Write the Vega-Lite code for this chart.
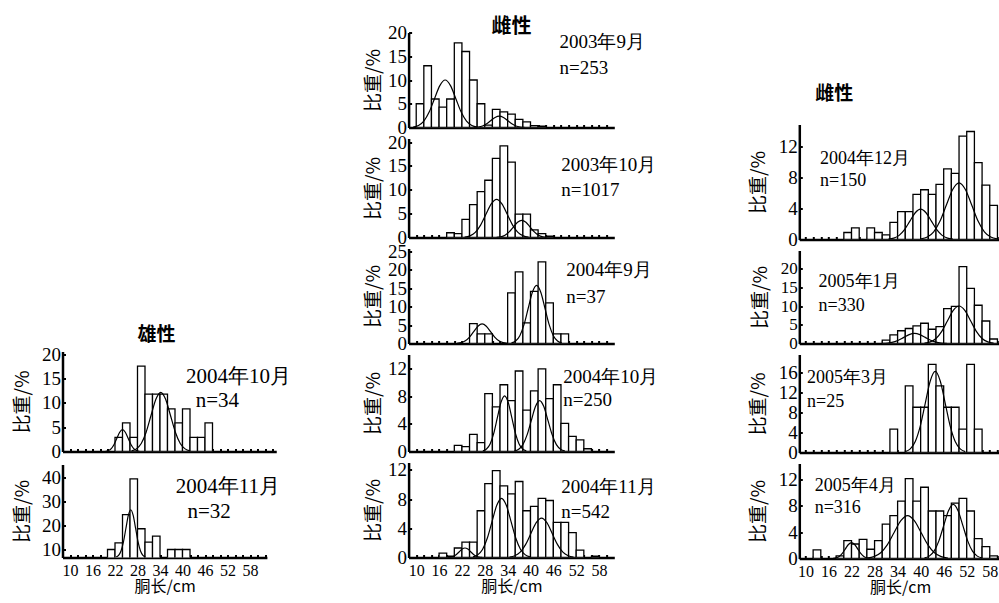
{
  "$schema": "https://vega.github.io/schema/vega-lite/v6.json",
  "padding": {"left": 12.5, "top": 16.5, "right": 0, "bottom": 0},
  "config": {
    "view": {"stroke": null},
    "font": "Liberation Serif",
    "axis": {
      "domainColor": "black", "domainWidth": 2.5, "tickColor": "black", "tickWidth": 2, "tickSize": -3,
      "grid": false, "labelColor": "black", "titleColor": "black",
      "labelFont": "Liberation Serif", "titleFont": "Noto Sans CJK SC", "titleFontWeight": "normal",
      "labelOverlap": false, "labelFlush": false
    },
    "axisY": {"labelFontSize": 19, "titleFontSize": 19, "labelPadding": 5},
    "axisX": {"labelFontSize": 16, "titleFontSize": 16, "labelPadding": 8, "titlePadding": 0},
    "title": {"font": "Noto Sans CJK SC", "fontSize": 19, "fontWeight": "bold", "color": "black", "anchor": "start", "frame": "group", "baseline": "bottom"}
  },
  "datasets": {
    "bars": [
      {"p":"L1","cm":22,"cm2":24,"pct":2.9},{"p":"L1","cm":24,"cm2":26,"pct":5.9},{"p":"L1","cm":26,"cm2":28,"pct":2.9},{"p":"L1","cm":28,"cm2":30,"pct":17.6},{"p":"L1","cm":30,"cm2":32,"pct":11.8},{"p":"L1","cm":32,"cm2":34,"pct":11.8},{"p":"L1","cm":34,"cm2":36,"pct":11.8},{"p":"L1","cm":36,"cm2":38,"pct":8.8},{"p":"L1","cm":38,"cm2":40,"pct":5.9},{"p":"L1","cm":40,"cm2":42,"pct":8.8},{"p":"L1","cm":42,"cm2":44,"pct":2.9},{"p":"L1","cm":44,"cm2":46,"pct":2.9},{"p":"L1","cm":46,"cm2":48,"pct":5.9},
      {"p":"L2","cm":20,"cm2":22,"pct":10},{"p":"L2","cm":22,"cm2":24,"pct":12.8},{"p":"L2","cm":24,"cm2":26,"pct":24.6},{"p":"L2","cm":26,"cm2":28,"pct":39.6},{"p":"L2","cm":28,"cm2":30,"pct":18.7},{"p":"L2","cm":30,"cm2":32,"pct":13.1},{"p":"L2","cm":32,"cm2":34,"pct":15.6},{"p":"L2","cm":36,"cm2":38,"pct":10},{"p":"L2","cm":38,"cm2":40,"pct":10},{"p":"L2","cm":40,"cm2":42,"pct":10},
      {"p":"M1","cm":10,"cm2":12,"pct":5},{"p":"M1","cm":12,"cm2":14,"pct":13},{"p":"M1","cm":14,"cm2":16,"pct":6},{"p":"M1","cm":16,"cm2":18,"pct":4.3},{"p":"M1","cm":18,"cm2":20,"pct":6},{"p":"M1","cm":20,"cm2":22,"pct":17.8},{"p":"M1","cm":22,"cm2":24,"pct":16},{"p":"M1","cm":24,"cm2":26,"pct":10},{"p":"M1","cm":26,"cm2":28,"pct":5},{"p":"M1","cm":28,"cm2":30,"pct":0.5},{"p":"M1","cm":30,"cm2":32,"pct":3.8},{"p":"M1","cm":32,"cm2":34,"pct":3.3},{"p":"M1","cm":34,"cm2":36,"pct":2.8},{"p":"M1","cm":36,"cm2":38,"pct":1.7},{"p":"M1","cm":38,"cm2":40,"pct":1.2},{"p":"M1","cm":40,"cm2":42,"pct":0.4},{"p":"M1","cm":42,"cm2":44,"pct":0.3},
      {"p":"M2","cm":18,"cm2":20,"pct":1},{"p":"M2","cm":20,"cm2":22,"pct":0.8},{"p":"M2","cm":22,"cm2":24,"pct":3.8},{"p":"M2","cm":24,"cm2":26,"pct":6.9},{"p":"M2","cm":26,"cm2":28,"pct":9.6},{"p":"M2","cm":28,"cm2":30,"pct":12},{"p":"M2","cm":30,"cm2":32,"pct":16.6},{"p":"M2","cm":32,"cm2":34,"pct":19.2},{"p":"M2","cm":34,"cm2":36,"pct":15.8},{"p":"M2","cm":36,"cm2":38,"pct":4.9},{"p":"M2","cm":38,"cm2":40,"pct":4.9},{"p":"M2","cm":40,"cm2":42,"pct":1.6},{"p":"M2","cm":42,"cm2":44,"pct":0.8},{"p":"M2","cm":44,"cm2":46,"pct":0.3},
      {"p":"M3","cm":24,"cm2":26,"pct":5.4},{"p":"M3","cm":26,"cm2":28,"pct":2.6},{"p":"M3","cm":28,"cm2":30,"pct":2.6},{"p":"M3","cm":34,"cm2":36,"pct":13.7},{"p":"M3","cm":36,"cm2":38,"pct":19.4},{"p":"M3","cm":38,"cm2":40,"pct":5.6},{"p":"M3","cm":40,"cm2":42,"pct":14.1},{"p":"M3","cm":42,"cm2":44,"pct":22.1},{"p":"M3","cm":44,"cm2":46,"pct":11},{"p":"M3","cm":46,"cm2":48,"pct":2.6},{"p":"M3","cm":48,"cm2":50,"pct":2.6},
      {"p":"M4","cm":20,"cm2":22,"pct":0.9},{"p":"M4","cm":22,"cm2":24,"pct":0.7},{"p":"M4","cm":24,"cm2":26,"pct":2.5},{"p":"M4","cm":26,"cm2":28,"pct":1.3},{"p":"M4","cm":28,"cm2":30,"pct":8.4},{"p":"M4","cm":30,"cm2":32,"pct":6.5},{"p":"M4","cm":32,"cm2":34,"pct":9.7},{"p":"M4","cm":34,"cm2":36,"pct":7.4},{"p":"M4","cm":36,"cm2":38,"pct":11.7},{"p":"M4","cm":38,"cm2":40,"pct":6},{"p":"M4","cm":40,"cm2":42,"pct":8.8},{"p":"M4","cm":42,"cm2":44,"pct":12},{"p":"M4","cm":44,"cm2":46,"pct":7.7},{"p":"M4","cm":46,"cm2":48,"pct":9.7},{"p":"M4","cm":48,"cm2":50,"pct":4.1},{"p":"M4","cm":50,"cm2":52,"pct":2.2},{"p":"M4","cm":52,"cm2":54,"pct":1.7},{"p":"M4","cm":54,"cm2":56,"pct":0.4},
      {"p":"M5","cm":16,"cm2":18,"pct":0.6},{"p":"M5","cm":18,"cm2":20,"pct":0.2},{"p":"M5","cm":20,"cm2":22,"pct":1.3},{"p":"M5","cm":22,"cm2":24,"pct":2.1},{"p":"M5","cm":24,"cm2":26,"pct":2.1},{"p":"M5","cm":26,"cm2":28,"pct":6.4},{"p":"M5","cm":28,"cm2":30,"pct":10.1},{"p":"M5","cm":30,"cm2":32,"pct":11.9},{"p":"M5","cm":32,"cm2":34,"pct":9.8},{"p":"M5","cm":34,"cm2":36,"pct":8.7},{"p":"M5","cm":36,"cm2":38,"pct":10.4},{"p":"M5","cm":38,"cm2":40,"pct":6.4},{"p":"M5","cm":40,"cm2":42,"pct":7},{"p":"M5","cm":42,"cm2":44,"pct":8.1},{"p":"M5","cm":44,"cm2":46,"pct":7.8},{"p":"M5","cm":46,"cm2":48,"pct":4.8},{"p":"M5","cm":48,"cm2":50,"pct":4.8},{"p":"M5","cm":50,"cm2":52,"pct":3.4},{"p":"M5","cm":52,"cm2":54,"pct":1},{"p":"M5","cm":56,"cm2":58,"pct":0.2},
      {"p":"R1","cm":20,"cm2":22,"pct":0.9},{"p":"R1","cm":22,"cm2":24,"pct":1.5},{"p":"R1","cm":26,"cm2":28,"pct":1.5},{"p":"R1","cm":28,"cm2":30,"pct":0.9},{"p":"R1","cm":30,"cm2":32,"pct":0.6},{"p":"R1","cm":32,"cm2":34,"pct":2.2},{"p":"R1","cm":34,"cm2":36,"pct":3.6},{"p":"R1","cm":36,"cm2":38,"pct":3.6},{"p":"R1","cm":38,"cm2":40,"pct":5.8},{"p":"R1","cm":40,"cm2":42,"pct":6.4},{"p":"R1","cm":42,"cm2":44,"pct":5.8},{"p":"R1","cm":44,"cm2":46,"pct":7.1},{"p":"R1","cm":46,"cm2":48,"pct":9.1},{"p":"R1","cm":48,"cm2":50,"pct":8.5},{"p":"R1","cm":50,"cm2":52,"pct":13.3},{"p":"R1","cm":52,"cm2":54,"pct":13.9},{"p":"R1","cm":54,"cm2":56,"pct":9.9},{"p":"R1","cm":56,"cm2":58,"pct":7},{"p":"R1","cm":58,"cm2":60,"pct":4.4},
      {"p":"R2","cm":30,"cm2":32,"pct":0.9},{"p":"R2","cm":32,"cm2":34,"pct":2.3},{"p":"R2","cm":34,"cm2":36,"pct":3.4},{"p":"R2","cm":36,"cm2":38,"pct":4},{"p":"R2","cm":38,"cm2":40,"pct":4.7},{"p":"R2","cm":40,"cm2":42,"pct":5.4},{"p":"R2","cm":42,"cm2":44,"pct":3.8},{"p":"R2","cm":44,"cm2":46,"pct":4.5},{"p":"R2","cm":46,"cm2":48,"pct":9.3},{"p":"R2","cm":48,"cm2":50,"pct":9.9},{"p":"R2","cm":50,"cm2":52,"pct":20.5},{"p":"R2","cm":52,"cm2":54,"pct":14.7},{"p":"R2","cm":54,"cm2":56,"pct":10.2},{"p":"R2","cm":56,"cm2":58,"pct":6},{"p":"R2","cm":58,"cm2":60,"pct":1.2},
      {"p":"R3","cm":32,"cm2":34,"pct":4.7},{"p":"R3","cm":36,"cm2":38,"pct":13.4},{"p":"R3","cm":38,"cm2":40,"pct":9.1},{"p":"R3","cm":40,"cm2":42,"pct":9.1},{"p":"R3","cm":42,"cm2":44,"pct":17.7},{"p":"R3","cm":44,"cm2":46,"pct":13.4},{"p":"R3","cm":46,"cm2":48,"pct":9.1},{"p":"R3","cm":48,"cm2":50,"pct":9.1},{"p":"R3","cm":50,"cm2":52,"pct":4.7},{"p":"R3","cm":52,"cm2":54,"pct":17.7},{"p":"R3","cm":54,"cm2":56,"pct":4.7},
      {"p":"R4","cm":12,"cm2":14,"pct":1.3},{"p":"R4","cm":18,"cm2":20,"pct":0.4},{"p":"R4","cm":20,"cm2":22,"pct":2.7},{"p":"R4","cm":22,"cm2":24,"pct":2.2},{"p":"R4","cm":24,"cm2":26,"pct":2.9},{"p":"R4","cm":26,"cm2":28,"pct":1.4},{"p":"R4","cm":28,"cm2":30,"pct":2.7},{"p":"R4","cm":30,"cm2":32,"pct":5.2},{"p":"R4","cm":32,"cm2":34,"pct":6.5},{"p":"R4","cm":34,"cm2":36,"pct":8.7},{"p":"R4","cm":36,"cm2":38,"pct":12.1},{"p":"R4","cm":38,"cm2":40,"pct":8.7},{"p":"R4","cm":40,"cm2":42,"pct":10.8},{"p":"R4","cm":42,"cm2":44,"pct":7.2},{"p":"R4","cm":44,"cm2":46,"pct":7.2},{"p":"R4","cm":46,"cm2":48,"pct":6.5},{"p":"R4","cm":48,"cm2":50,"pct":8.4},{"p":"R4","cm":50,"cm2":52,"pct":9.1},{"p":"R4","cm":52,"cm2":54,"pct":7.2},{"p":"R4","cm":54,"cm2":56,"pct":3},{"p":"R4","cm":56,"cm2":58,"pct":1.8},{"p":"R4","cm":58,"cm2":60,"pct":0.4}
    ],
    "curves": [
      {"p":"L1","c":1,"cm":19.5,"pct":0.05},{"p":"L1","c":1,"cm":20.25,"pct":0.2},{"p":"L1","c":1,"cm":21,"pct":0.61},{"p":"L1","c":1,"cm":21.75,"pct":1.46},{"p":"L1","c":1,"cm":22.5,"pct":2.73},{"p":"L1","c":1,"cm":23.25,"pct":3.97},{"p":"L1","c":1,"cm":24,"pct":4.5},{"p":"L1","c":1,"cm":24.75,"pct":3.97},{"p":"L1","c":1,"cm":25.5,"pct":2.73},{"p":"L1","c":1,"cm":26.25,"pct":1.46},{"p":"L1","c":1,"cm":27,"pct":0.61},{"p":"L1","c":1,"cm":27.75,"pct":0.2},{"p":"L1","c":1,"cm":28.5,"pct":0.05},
      {"p":"L1","c":2,"cm":26.4,"pct":0.13},{"p":"L1","c":2,"cm":27.7,"pct":0.54},{"p":"L1","c":2,"cm":29,"pct":1.65},{"p":"L1","c":2,"cm":30.3,"pct":3.97},{"p":"L1","c":2,"cm":31.6,"pct":7.41},{"p":"L1","c":2,"cm":32.9,"pct":10.76},{"p":"L1","c":2,"cm":34.2,"pct":12.2},{"p":"L1","c":2,"cm":35.5,"pct":10.76},{"p":"L1","c":2,"cm":36.8,"pct":7.41},{"p":"L1","c":2,"cm":38.1,"pct":3.97},{"p":"L1","c":2,"cm":39.4,"pct":1.65},{"p":"L1","c":2,"cm":40.7,"pct":0.54},{"p":"L1","c":2,"cm":42,"pct":0.13},
      {"p":"L2","c":1,"cm":22.3,"pct":6.87},{"p":"L2","c":1,"cm":22.95,"pct":7.53},{"p":"L2","c":1,"cm":23.6,"pct":9.35},{"p":"L2","c":1,"cm":24.25,"pct":13.15},{"p":"L2","c":1,"cm":24.9,"pct":18.79},{"p":"L2","c":1,"cm":25.55,"pct":24.29},{"p":"L2","c":1,"cm":26.2,"pct":26.65},{"p":"L2","c":1,"cm":26.85,"pct":24.29},{"p":"L2","c":1,"cm":27.5,"pct":18.79},{"p":"L2","c":1,"cm":28.15,"pct":13.15},{"p":"L2","c":1,"cm":28.8,"pct":9.35},{"p":"L2","c":1,"cm":29.45,"pct":7.53},{"p":"L2","c":1,"cm":30.1,"pct":6.87},
      {"p":"M1","c":1,"cm":9.2,"pct":0.11},{"p":"M1","c":1,"cm":10.6,"pct":0.44},{"p":"M1","c":1,"cm":12,"pct":1.35},{"p":"M1","c":1,"cm":13.4,"pct":3.25},{"p":"M1","c":1,"cm":14.8,"pct":6.07},{"p":"M1","c":1,"cm":16.2,"pct":8.82},{"p":"M1","c":1,"cm":17.6,"pct":10},{"p":"M1","c":1,"cm":19,"pct":8.82},{"p":"M1","c":1,"cm":20.4,"pct":6.07},{"p":"M1","c":1,"cm":21.8,"pct":3.25},{"p":"M1","c":1,"cm":23.2,"pct":1.35},{"p":"M1","c":1,"cm":24.6,"pct":0.44},{"p":"M1","c":1,"cm":26,"pct":0.11},
      {"p":"M1","c":2,"cm":25.2,"pct":0.03},{"p":"M1","c":2,"cm":26.3,"pct":0.11},{"p":"M1","c":2,"cm":27.4,"pct":0.32},{"p":"M1","c":2,"cm":28.5,"pct":0.78},{"p":"M1","c":2,"cm":29.6,"pct":1.46},{"p":"M1","c":2,"cm":30.7,"pct":2.12},{"p":"M1","c":2,"cm":31.8,"pct":2.4},{"p":"M1","c":2,"cm":32.9,"pct":2.12},{"p":"M1","c":2,"cm":34,"pct":1.46},{"p":"M1","c":2,"cm":35.1,"pct":0.78},{"p":"M1","c":2,"cm":36.2,"pct":0.32},{"p":"M1","c":2,"cm":37.3,"pct":0.11},{"p":"M1","c":2,"cm":38.4,"pct":0.03},
      {"p":"M2","c":1,"cm":22.7,"pct":0.09},{"p":"M2","c":1,"cm":24.1,"pct":0.35},{"p":"M2","c":1,"cm":25.5,"pct":1.08},{"p":"M2","c":1,"cm":26.9,"pct":2.6},{"p":"M2","c":1,"cm":28.3,"pct":4.86},{"p":"M2","c":1,"cm":29.7,"pct":7.06},{"p":"M2","c":1,"cm":31.1,"pct":8},{"p":"M2","c":1,"cm":32.5,"pct":7.06},{"p":"M2","c":1,"cm":33.9,"pct":4.86},{"p":"M2","c":1,"cm":35.3,"pct":2.6},{"p":"M2","c":1,"cm":36.7,"pct":1.08},{"p":"M2","c":1,"cm":38.1,"pct":0.35},{"p":"M2","c":1,"cm":39.5,"pct":0.09},
      {"p":"M2","c":2,"cm":31.1,"pct":0.04},{"p":"M2","c":2,"cm":32.2,"pct":0.16},{"p":"M2","c":2,"cm":33.3,"pct":0.49},{"p":"M2","c":2,"cm":34.4,"pct":1.17},{"p":"M2","c":2,"cm":35.5,"pct":2.19},{"p":"M2","c":2,"cm":36.6,"pct":3.18},{"p":"M2","c":2,"cm":37.7,"pct":3.6},{"p":"M2","c":2,"cm":38.8,"pct":3.18},{"p":"M2","c":2,"cm":39.9,"pct":2.19},{"p":"M2","c":2,"cm":41,"pct":1.17},{"p":"M2","c":2,"cm":42.1,"pct":0.49},{"p":"M2","c":2,"cm":43.2,"pct":0.16},{"p":"M2","c":2,"cm":44.3,"pct":0.04},
      {"p":"M3","c":1,"cm":20.7,"pct":0.06},{"p":"M3","c":1,"cm":21.8,"pct":0.23},{"p":"M3","c":1,"cm":22.9,"pct":0.72},{"p":"M3","c":1,"cm":24,"pct":1.72},{"p":"M3","c":1,"cm":25.1,"pct":3.22},{"p":"M3","c":1,"cm":26.2,"pct":4.67},{"p":"M3","c":1,"cm":27.3,"pct":5.3},{"p":"M3","c":1,"cm":28.4,"pct":4.67},{"p":"M3","c":1,"cm":29.5,"pct":3.22},{"p":"M3","c":1,"cm":30.6,"pct":1.72},{"p":"M3","c":1,"cm":31.7,"pct":0.72},{"p":"M3","c":1,"cm":32.8,"pct":0.23},{"p":"M3","c":1,"cm":33.9,"pct":0.06},
      {"p":"M3","c":2,"cm":35,"pct":0.17},{"p":"M3","c":2,"cm":36.1,"pct":0.69},{"p":"M3","c":2,"cm":37.2,"pct":2.12},{"p":"M3","c":2,"cm":38.3,"pct":5.1},{"p":"M3","c":2,"cm":39.4,"pct":9.53},{"p":"M3","c":2,"cm":40.5,"pct":13.85},{"p":"M3","c":2,"cm":41.6,"pct":15.7},{"p":"M3","c":2,"cm":42.7,"pct":13.85},{"p":"M3","c":2,"cm":43.8,"pct":9.53},{"p":"M3","c":2,"cm":44.9,"pct":5.1},{"p":"M3","c":2,"cm":46,"pct":2.12},{"p":"M3","c":2,"cm":47.1,"pct":0.69},{"p":"M3","c":2,"cm":48.2,"pct":0.17},
      {"p":"M4","c":1,"cm":27.5,"pct":0.09},{"p":"M4","c":1,"cm":28.45,"pct":0.36},{"p":"M4","c":1,"cm":29.4,"pct":1.09},{"p":"M4","c":1,"cm":30.35,"pct":2.63},{"p":"M4","c":1,"cm":31.3,"pct":4.92},{"p":"M4","c":1,"cm":32.25,"pct":7.14},{"p":"M4","c":1,"cm":33.2,"pct":8.1},{"p":"M4","c":1,"cm":34.15,"pct":7.14},{"p":"M4","c":1,"cm":35.1,"pct":4.92},{"p":"M4","c":1,"cm":36.05,"pct":2.63},{"p":"M4","c":1,"cm":37,"pct":1.09},{"p":"M4","c":1,"cm":37.95,"pct":0.36},{"p":"M4","c":1,"cm":38.9,"pct":0.09},
      {"p":"M4","c":2,"cm":35.8,"pct":0.08},{"p":"M4","c":2,"cm":36.9,"pct":0.33},{"p":"M4","c":2,"cm":38,"pct":1},{"p":"M4","c":2,"cm":39.1,"pct":2.41},{"p":"M4","c":2,"cm":40.2,"pct":4.49},{"p":"M4","c":2,"cm":41.3,"pct":6.53},{"p":"M4","c":2,"cm":42.4,"pct":7.4},{"p":"M4","c":2,"cm":43.5,"pct":6.53},{"p":"M4","c":2,"cm":44.6,"pct":4.49},{"p":"M4","c":2,"cm":45.7,"pct":2.41},{"p":"M4","c":2,"cm":46.8,"pct":1},{"p":"M4","c":2,"cm":47.9,"pct":0.33},{"p":"M4","c":2,"cm":49,"pct":0.08},
      {"p":"M5","c":1,"cm":24.9,"pct":0.09},{"p":"M5","c":1,"cm":26.15,"pct":0.36},{"p":"M5","c":1,"cm":27.4,"pct":1.09},{"p":"M5","c":1,"cm":28.65,"pct":2.63},{"p":"M5","c":1,"cm":29.9,"pct":4.92},{"p":"M5","c":1,"cm":31.15,"pct":7.14},{"p":"M5","c":1,"cm":32.4,"pct":8.1},{"p":"M5","c":1,"cm":33.65,"pct":7.14},{"p":"M5","c":1,"cm":34.9,"pct":4.92},{"p":"M5","c":1,"cm":36.15,"pct":2.63},{"p":"M5","c":1,"cm":37.4,"pct":1.09},{"p":"M5","c":1,"cm":38.65,"pct":0.36},{"p":"M5","c":1,"cm":39.9,"pct":0.09},
      {"p":"M5","c":2,"cm":34.5,"pct":0.06},{"p":"M5","c":2,"cm":35.9,"pct":0.24},{"p":"M5","c":2,"cm":37.3,"pct":0.73},{"p":"M5","c":2,"cm":38.7,"pct":1.76},{"p":"M5","c":2,"cm":40.1,"pct":3.28},{"p":"M5","c":2,"cm":41.5,"pct":4.76},{"p":"M5","c":2,"cm":42.9,"pct":5.4},{"p":"M5","c":2,"cm":44.3,"pct":4.76},{"p":"M5","c":2,"cm":45.7,"pct":3.28},{"p":"M5","c":2,"cm":47.1,"pct":1.76},{"p":"M5","c":2,"cm":48.5,"pct":0.73},{"p":"M5","c":2,"cm":49.9,"pct":0.24},{"p":"M5","c":2,"cm":51.3,"pct":0.06},
      {"p":"M5","c":3,"cm":18.3,"pct":0.01},{"p":"M5","c":3,"cm":19.05,"pct":0.06},{"p":"M5","c":3,"cm":19.8,"pct":0.18},{"p":"M5","c":3,"cm":20.55,"pct":0.42},{"p":"M5","c":3,"cm":21.3,"pct":0.79},{"p":"M5","c":3,"cm":22.05,"pct":1.15},{"p":"M5","c":3,"cm":22.8,"pct":1.3},{"p":"M5","c":3,"cm":23.55,"pct":1.15},{"p":"M5","c":3,"cm":24.3,"pct":0.79},{"p":"M5","c":3,"cm":25.05,"pct":0.42},{"p":"M5","c":3,"cm":25.8,"pct":0.18},{"p":"M5","c":3,"cm":26.55,"pct":0.06},{"p":"M5","c":3,"cm":27.3,"pct":0.01},
      {"p":"R1","c":1,"cm":31.6,"pct":0.04},{"p":"R1","c":1,"cm":33,"pct":0.17},{"p":"R1","c":1,"cm":34.4,"pct":0.53},{"p":"R1","c":1,"cm":35.8,"pct":1.27},{"p":"R1","c":1,"cm":37.2,"pct":2.37},{"p":"R1","c":1,"cm":38.6,"pct":3.44},{"p":"R1","c":1,"cm":40,"pct":3.9},{"p":"R1","c":1,"cm":41.4,"pct":3.44},{"p":"R1","c":1,"cm":42.8,"pct":2.37},{"p":"R1","c":1,"cm":44.2,"pct":1.27},{"p":"R1","c":1,"cm":45.6,"pct":0.53},{"p":"R1","c":1,"cm":47,"pct":0.17},{"p":"R1","c":1,"cm":48.4,"pct":0.04},
      {"p":"R1","c":2,"cm":40.1,"pct":0.08},{"p":"R1","c":2,"cm":41.75,"pct":0.32},{"p":"R1","c":2,"cm":43.4,"pct":0.99},{"p":"R1","c":2,"cm":45.05,"pct":2.37},{"p":"R1","c":2,"cm":46.7,"pct":4.43},{"p":"R1","c":2,"cm":48.35,"pct":6.44},{"p":"R1","c":2,"cm":50,"pct":7.3},{"p":"R1","c":2,"cm":51.65,"pct":6.44},{"p":"R1","c":2,"cm":53.3,"pct":4.43},{"p":"R1","c":2,"cm":54.95,"pct":2.37},{"p":"R1","c":2,"cm":56.6,"pct":0.99},{"p":"R1","c":2,"cm":58.25,"pct":0.32},{"p":"R1","c":2,"cm":59.9,"pct":0.08},
      {"p":"R2","c":1,"cm":30,"pct":0.03},{"p":"R2","c":1,"cm":31.4,"pct":0.12},{"p":"R2","c":1,"cm":32.8,"pct":0.36},{"p":"R2","c":1,"cm":34.2,"pct":0.88},{"p":"R2","c":1,"cm":35.6,"pct":1.64},{"p":"R2","c":1,"cm":37,"pct":2.38},{"p":"R2","c":1,"cm":38.4,"pct":2.7},{"p":"R2","c":1,"cm":39.8,"pct":2.38},{"p":"R2","c":1,"cm":41.2,"pct":1.64},{"p":"R2","c":1,"cm":42.6,"pct":0.88},{"p":"R2","c":1,"cm":44,"pct":0.36},{"p":"R2","c":1,"cm":45.4,"pct":0.12},{"p":"R2","c":1,"cm":46.8,"pct":0.03},
      {"p":"R2","c":2,"cm":41,"pct":0.11},{"p":"R2","c":2,"cm":42.5,"pct":0.44},{"p":"R2","c":2,"cm":44,"pct":1.35},{"p":"R2","c":2,"cm":45.5,"pct":3.25},{"p":"R2","c":2,"cm":47,"pct":6.07},{"p":"R2","c":2,"cm":48.5,"pct":8.82},{"p":"R2","c":2,"cm":50,"pct":10},{"p":"R2","c":2,"cm":51.5,"pct":8.82},{"p":"R2","c":2,"cm":53,"pct":6.07},{"p":"R2","c":2,"cm":54.5,"pct":3.25},{"p":"R2","c":2,"cm":56,"pct":1.35},{"p":"R2","c":2,"cm":57.5,"pct":0.44},{"p":"R2","c":2,"cm":59,"pct":0.11},
      {"p":"R3","c":1,"cm":36,"pct":0.18},{"p":"R3","c":1,"cm":37.3,"pct":0.72},{"p":"R3","c":1,"cm":38.6,"pct":2.2},{"p":"R3","c":1,"cm":39.9,"pct":5.3},{"p":"R3","c":1,"cm":41.2,"pct":9.89},{"p":"R3","c":1,"cm":42.5,"pct":14.38},{"p":"R3","c":1,"cm":43.8,"pct":16.3},{"p":"R3","c":1,"cm":45.1,"pct":14.38},{"p":"R3","c":1,"cm":46.4,"pct":9.89},{"p":"R3","c":1,"cm":47.7,"pct":5.3},{"p":"R3","c":1,"cm":49,"pct":2.2},{"p":"R3","c":1,"cm":50.3,"pct":0.72},{"p":"R3","c":1,"cm":51.6,"pct":0.18},
      {"p":"R4","c":1,"cm":17.2,"pct":0.03},{"p":"R4","c":1,"cm":18,"pct":0.11},{"p":"R4","c":1,"cm":18.8,"pct":0.32},{"p":"R4","c":1,"cm":19.6,"pct":0.78},{"p":"R4","c":1,"cm":20.4,"pct":1.46},{"p":"R4","c":1,"cm":21.2,"pct":2.12},{"p":"R4","c":1,"cm":22,"pct":2.4},{"p":"R4","c":1,"cm":22.8,"pct":2.12},{"p":"R4","c":1,"cm":23.6,"pct":1.46},{"p":"R4","c":1,"cm":24.4,"pct":0.78},{"p":"R4","c":1,"cm":25.2,"pct":0.32},{"p":"R4","c":1,"cm":26,"pct":0.11},{"p":"R4","c":1,"cm":26.8,"pct":0.03},
      {"p":"R4","c":2,"cm":26.1,"pct":0.07},{"p":"R4","c":2,"cm":27.85,"pct":0.29},{"p":"R4","c":2,"cm":29.6,"pct":0.88},{"p":"R4","c":2,"cm":31.35,"pct":2.11},{"p":"R4","c":2,"cm":33.1,"pct":3.95},{"p":"R4","c":2,"cm":34.85,"pct":5.73},{"p":"R4","c":2,"cm":36.6,"pct":6.5},{"p":"R4","c":2,"cm":38.35,"pct":5.73},{"p":"R4","c":2,"cm":40.1,"pct":3.95},{"p":"R4","c":2,"cm":41.85,"pct":2.11},{"p":"R4","c":2,"cm":43.6,"pct":0.88},{"p":"R4","c":2,"cm":45.35,"pct":0.29},{"p":"R4","c":2,"cm":47.1,"pct":0.07},
      {"p":"R4","c":3,"cm":41,"pct":0.09},{"p":"R4","c":3,"cm":42.25,"pct":0.36},{"p":"R4","c":3,"cm":43.5,"pct":1.11},{"p":"R4","c":3,"cm":44.75,"pct":2.67},{"p":"R4","c":3,"cm":46,"pct":4.98},{"p":"R4","c":3,"cm":47.25,"pct":7.23},{"p":"R4","c":3,"cm":48.5,"pct":8.2},{"p":"R4","c":3,"cm":49.75,"pct":7.23},{"p":"R4","c":3,"cm":51,"pct":4.98},{"p":"R4","c":3,"cm":52.25,"pct":2.67},{"p":"R4","c":3,"cm":53.5,"pct":1.11},{"p":"R4","c":3,"cm":54.75,"pct":0.36},{"p":"R4","c":3,"cm":56,"pct":0.09}
    ]
  },
  "spacing": 90.8,
  "hconcat": [
    {
      "spacing": 72.1,
      "hconcat": [
        {
          "spacing": 13,
          "bounds": "flush",
          "vconcat": [
            {"width": 10, "height": 306, "data": {"values": [{"s": 1}]}, "mark": {"type": "point", "opacity": 0}, "encoding": {}},
            {
              "width": 213.75, "height": 100,
              "title": {"text": "雄性", "dx": 75, "offset": 0},
              "resolve": {"axis": {"x": "independent", "y": "independent"}},
              "layer": [
                {
                  "encoding": {
                    "x": {"field": "cm", "type": "quantitative", "scale": {"domain": [8, 65], "nice": false, "zero": false}, "axis": {"title": null, "labels": false, "values": [10,12,14,16,18,20,22,24,26,28,30,32,34,36,38,40,42,44,46,48,50,52,54,56,58,60,62,64]}},
                    "y": {"field": "pct", "type": "quantitative", "scale": {"domain": [0, 20.6], "nice": false, "zero": false}, "axis": {"title": "比重/%", "values": [0,5,10,15,20], "titlePadding": 9.5}}
                  },
                  "layer": [
                    {"data": {"name": "bars"}, "transform": [{"filter": "datum.p == 'L1'"}], "mark": {"type": "bar", "fill": "white", "stroke": "black", "strokeWidth": 1.3, "clip": true}, "encoding": {"x2": {"field": "cm2"}, "y2": {"datum": 0}}},
                    {"data": {"name": "curves"}, "transform": [{"filter": "datum.p == 'L1'"}], "mark": {"type": "line", "interpolate": "monotone", "stroke": "black", "strokeWidth": 1.2, "clip": true}, "encoding": {"detail": {"field": "c", "type": "nominal"}}}
                  ]
                },
                {"data": {"values": [{"t": "2004年10月"}]}, "mark": {"type": "text", "align": "left", "baseline": "middle", "color": "black", "font": "Liberation Serif", "fontSize": 21},
                 "encoding": {"x": {"datum": 40.9, "type": "quantitative", "axis": null}, "y": {"datum": 15.4, "type": "quantitative", "axis": null}, "text": {"field": "t", "type": "nominal"}}},
                {"data": {"values": [{"t": "n=34"}]}, "mark": {"type": "text", "align": "left", "baseline": "middle", "color": "black", "font": "Liberation Serif", "fontSize": 21},
                 "encoding": {"x": {"datum": 43.5, "type": "quantitative", "axis": null}, "y": {"datum": 10.4, "type": "quantitative", "axis": null}, "text": {"field": "t", "type": "nominal"}}}
              ]
            },
            {
              "width": 204.4, "height": 93,
              "resolve": {"axis": {"x": "independent", "y": "independent"}},
              "layer": [
                {
                  "encoding": {
                    "x": {"field": "cm", "type": "quantitative", "scale": {"domain": [8, 62.5], "nice": false, "zero": false}, "axis": {"title": "胴长/cm", "values": [10,12,14,16,18,20,22,24,26,28,30,32,34,36,38,40,42,44,46,48,50,52,54,56,58,60,62], "labelExpr": "indexof([10,16,22,28,34,40,46,52,58], datum.value) >= 0 ? datum.label : ''"}},
                    "y": {"field": "pct", "type": "quantitative", "scale": {"domain": [6.65, 45.6], "nice": false, "zero": false}, "axis": {"title": "比重/%", "values": [10,20,30,40], "titlePadding": 9.5}}
                  },
                  "layer": [
                    {"data": {"name": "bars"}, "transform": [{"filter": "datum.p == 'L2'"}], "mark": {"type": "bar", "fill": "white", "stroke": "black", "strokeWidth": 1.3, "clip": true}, "encoding": {"x2": {"field": "cm2"}, "y2": {"datum": 0}}},
                    {"data": {"name": "curves"}, "transform": [{"filter": "datum.p == 'L2'"}], "mark": {"type": "line", "interpolate": "monotone", "stroke": "black", "strokeWidth": 1.2, "clip": true}, "encoding": {"detail": {"field": "c", "type": "nominal"}}}
                  ]
                },
                {"data": {"values": [{"t": "2004年11月"}]}, "mark": {"type": "text", "align": "left", "baseline": "middle", "color": "black", "font": "Liberation Serif", "fontSize": 21},
                 "encoding": {"x": {"datum": 38.2, "type": "quantitative", "axis": null}, "y": {"datum": 36.2, "type": "quantitative", "axis": null}, "text": {"field": "t", "type": "nominal"}}},
                {"data": {"values": [{"t": "n=32"}]}, "mark": {"type": "text", "align": "left", "baseline": "middle", "color": "black", "font": "Liberation Serif", "fontSize": 21},
                 "encoding": {"x": {"datum": 41.3, "type": "quantitative", "axis": null}, "y": {"datum": 25.7, "type": "quantitative", "axis": null}, "text": {"field": "t", "type": "nominal"}}}
              ]
            }
          ]
        },
        {
          "spacing": 11,
          "bounds": "flush",
          "vconcat": [
            {
              "width": 205.7, "height": 95,
              "title": {"text": "雌性", "dx": 83, "dy": 13, "offset": 0, "fontSize": 20},
              "resolve": {"axis": {"x": "independent", "y": "independent"}},
              "layer": [
                {
                  "encoding": {
                    "x": {"field": "cm", "type": "quantitative", "scale": {"domain": [8, 62], "nice": false, "zero": false}, "axis": {"title": null, "labels": false, "values": [10,12,14,16,18,20,22,24,26,28,30,32,34,36,38,40,42,44,46,48,50,52,54,56,58,60]}},
                    "y": {"field": "pct", "type": "quantitative", "scale": {"domain": [0, 20], "nice": false, "zero": false}, "axis": {"title": "比重/%", "values": [0,5,10,15,20], "titlePadding": 4.5}}
                  },
                  "layer": [
                    {"data": {"name": "bars"}, "transform": [{"filter": "datum.p == 'M1'"}], "mark": {"type": "bar", "fill": "white", "stroke": "black", "strokeWidth": 1.3, "clip": true}, "encoding": {"x2": {"field": "cm2"}, "y2": {"datum": 0}}},
                    {"data": {"name": "curves"}, "transform": [{"filter": "datum.p == 'M1'"}], "mark": {"type": "line", "interpolate": "monotone", "stroke": "black", "strokeWidth": 1.2, "clip": true}, "encoding": {"detail": {"field": "c", "type": "nominal"}}}
                  ]
                },
                {"data": {"values": [{"t": "2003年9月"}]}, "mark": {"type": "text", "align": "left", "baseline": "middle", "color": "black", "font": "Liberation Serif", "fontSize": 19},
                 "encoding": {"x": {"datum": 47.6, "type": "quantitative", "axis": null}, "y": {"datum": 18.1, "type": "quantitative", "axis": null}, "text": {"field": "t", "type": "nominal"}}},
                {"data": {"values": [{"t": "n=253"}]}, "mark": {"type": "text", "align": "left", "baseline": "middle", "color": "black", "font": "Liberation Serif", "fontSize": 19},
                 "encoding": {"x": {"datum": 47.6, "type": "quantitative", "axis": null}, "y": {"datum": 12.6, "type": "quantitative", "axis": null}, "text": {"field": "t", "type": "nominal"}}}
              ]
            },
            {
              "width": 205.7, "height": 99,
              "resolve": {"axis": {"x": "independent", "y": "independent"}},
              "layer": [
                {
                  "encoding": {
                    "x": {"field": "cm", "type": "quantitative", "scale": {"domain": [8, 62], "nice": false, "zero": false}, "axis": {"title": null, "labels": false, "values": [10,12,14,16,18,20,22,24,26,28,30,32,34,36,38,40,42,44,46,48,50,52,54,56,58,60]}},
                    "y": {"field": "pct", "type": "quantitative", "scale": {"domain": [0, 20.75], "nice": false, "zero": false}, "axis": {"title": "比重/%", "values": [0,5,10,15,20], "titlePadding": 4.5}}
                  },
                  "layer": [
                    {"data": {"name": "bars"}, "transform": [{"filter": "datum.p == 'M2'"}], "mark": {"type": "bar", "fill": "white", "stroke": "black", "strokeWidth": 1.3, "clip": true}, "encoding": {"x2": {"field": "cm2"}, "y2": {"datum": 0}}},
                    {"data": {"name": "curves"}, "transform": [{"filter": "datum.p == 'M2'"}], "mark": {"type": "line", "interpolate": "monotone", "stroke": "black", "strokeWidth": 1.2, "clip": true}, "encoding": {"detail": {"field": "c", "type": "nominal"}}}
                  ]
                },
                {"data": {"values": [{"t": "2003年10月"}]}, "mark": {"type": "text", "align": "left", "baseline": "middle", "color": "black", "font": "Liberation Serif", "fontSize": 19},
                 "encoding": {"x": {"datum": 48.1, "type": "quantitative", "axis": null}, "y": {"datum": 15.3, "type": "quantitative", "axis": null}, "text": {"field": "t", "type": "nominal"}}},
                {"data": {"values": [{"t": "n=1017"}]}, "mark": {"type": "text", "align": "left", "baseline": "middle", "color": "black", "font": "Liberation Serif", "fontSize": 19},
                 "encoding": {"x": {"datum": 48.1, "type": "quantitative", "axis": null}, "y": {"datum": 9.9, "type": "quantitative", "axis": null}, "text": {"field": "t", "type": "nominal"}}}
              ]
            },
            {
              "width": 205.7, "height": 95,
              "resolve": {"axis": {"x": "independent", "y": "independent"}},
              "layer": [
                {
                  "encoding": {
                    "x": {"field": "cm", "type": "quantitative", "scale": {"domain": [8, 62], "nice": false, "zero": false}, "axis": {"title": null, "labels": false, "values": [10,12,14,16,18,20,22,24,26,28,30,32,34,36,38,40,42,44,46,48,50,52,54,56,58,60]}},
                    "y": {"field": "pct", "type": "quantitative", "scale": {"domain": [0, 25.7], "nice": false, "zero": false}, "axis": {"title": "比重/%", "values": [0,5,10,15,20,25], "titlePadding": 4.5}}
                  },
                  "layer": [
                    {"data": {"name": "bars"}, "transform": [{"filter": "datum.p == 'M3'"}], "mark": {"type": "bar", "fill": "white", "stroke": "black", "strokeWidth": 1.3, "clip": true}, "encoding": {"x2": {"field": "cm2"}, "y2": {"datum": 0}}},
                    {"data": {"name": "curves"}, "transform": [{"filter": "datum.p == 'M3'"}], "mark": {"type": "line", "interpolate": "monotone", "stroke": "black", "strokeWidth": 1.2, "clip": true}, "encoding": {"detail": {"field": "c", "type": "nominal"}}}
                  ]
                },
                {"data": {"values": [{"t": "2004年9月"}]}, "mark": {"type": "text", "align": "left", "baseline": "middle", "color": "black", "font": "Liberation Serif", "fontSize": 19},
                 "encoding": {"x": {"datum": 49.4, "type": "quantitative", "axis": null}, "y": {"datum": 19.9, "type": "quantitative", "axis": null}, "text": {"field": "t", "type": "nominal"}}},
                {"data": {"values": [{"t": "n=37"}]}, "mark": {"type": "text", "align": "left", "baseline": "middle", "color": "black", "font": "Liberation Serif", "fontSize": 19},
                 "encoding": {"x": {"datum": 49.4, "type": "quantitative", "axis": null}, "y": {"datum": 12.7, "type": "quantitative", "axis": null}, "text": {"field": "t", "type": "nominal"}}}
              ]
            },
            {
              "width": 205.7, "height": 97,
              "resolve": {"axis": {"x": "independent", "y": "independent"}},
              "layer": [
                {
                  "encoding": {
                    "x": {"field": "cm", "type": "quantitative", "scale": {"domain": [8, 62], "nice": false, "zero": false}, "axis": {"title": null, "labels": false, "values": [10,12,14,16,18,20,22,24,26,28,30,32,34,36,38,40,42,44,46,48,50,52,54,56,58,60]}},
                    "y": {"field": "pct", "type": "quantitative", "scale": {"domain": [0, 14.1], "nice": false, "zero": false}, "axis": {"title": "比重/%", "values": [0,4,8,12], "titlePadding": 4.5}}
                  },
                  "layer": [
                    {"data": {"name": "bars"}, "transform": [{"filter": "datum.p == 'M4'"}], "mark": {"type": "bar", "fill": "white", "stroke": "black", "strokeWidth": 1.3, "clip": true}, "encoding": {"x2": {"field": "cm2"}, "y2": {"datum": 0}}},
                    {"data": {"name": "curves"}, "transform": [{"filter": "datum.p == 'M4'"}], "mark": {"type": "line", "interpolate": "monotone", "stroke": "black", "strokeWidth": 1.2, "clip": true}, "encoding": {"detail": {"field": "c", "type": "nominal"}}}
                  ]
                },
                {"data": {"values": [{"t": "2004年10月"}]}, "mark": {"type": "text", "align": "left", "baseline": "middle", "color": "black", "font": "Liberation Serif", "fontSize": 19},
                 "encoding": {"x": {"datum": 48.6, "type": "quantitative", "axis": null}, "y": {"datum": 10.8, "type": "quantitative", "axis": null}, "text": {"field": "t", "type": "nominal"}}},
                {"data": {"values": [{"t": "n=250"}]}, "mark": {"type": "text", "align": "left", "baseline": "middle", "color": "black", "font": "Liberation Serif", "fontSize": 19},
                 "encoding": {"x": {"datum": 48.6, "type": "quantitative", "axis": null}, "y": {"datum": 7.5, "type": "quantitative", "axis": null}, "text": {"field": "t", "type": "nominal"}}}
              ]
            },
            {
              "width": 205.7, "height": 95,
              "resolve": {"axis": {"x": "independent", "y": "independent"}},
              "layer": [
                {
                  "encoding": {
                    "x": {"field": "cm", "type": "quantitative", "scale": {"domain": [8, 62], "nice": false, "zero": false}, "axis": {"title": "胴长/cm", "values": [10,12,14,16,18,20,22,24,26,28,30,32,34,36,38,40,42,44,46,48,50,52,54,56,58,60], "labelExpr": "indexof([10,16,22,28,34,40,46,52,58], datum.value) >= 0 ? datum.label : ''"}},
                    "y": {"field": "pct", "type": "quantitative", "scale": {"domain": [0, 13], "nice": false, "zero": false}, "axis": {"title": "比重/%", "values": [0,4,8,12], "titlePadding": 4.5}}
                  },
                  "layer": [
                    {"data": {"name": "bars"}, "transform": [{"filter": "datum.p == 'M5'"}], "mark": {"type": "bar", "fill": "white", "stroke": "black", "strokeWidth": 1.3, "clip": true}, "encoding": {"x2": {"field": "cm2"}, "y2": {"datum": 0}}},
                    {"data": {"name": "curves"}, "transform": [{"filter": "datum.p == 'M5'"}], "mark": {"type": "line", "interpolate": "monotone", "stroke": "black", "strokeWidth": 1.2, "clip": true}, "encoding": {"detail": {"field": "c", "type": "nominal"}}}
                  ]
                },
                {"data": {"values": [{"t": "2004年11月"}]}, "mark": {"type": "text", "align": "left", "baseline": "middle", "color": "black", "font": "Liberation Serif", "fontSize": 19},
                 "encoding": {"x": {"datum": 48.1, "type": "quantitative", "axis": null}, "y": {"datum": 9.6, "type": "quantitative", "axis": null}, "text": {"field": "t", "type": "nominal"}}},
                {"data": {"values": [{"t": "n=542"}]}, "mark": {"type": "text", "align": "left", "baseline": "middle", "color": "black", "font": "Liberation Serif", "fontSize": 19},
                 "encoding": {"x": {"datum": 48.1, "type": "quantitative", "axis": null}, "y": {"datum": 6.2, "type": "quantitative", "axis": null}, "text": {"field": "t", "type": "nominal"}}}
              ]
            }
          ]
        }
      ]
    },
    {
      "spacing": 11,
      "bounds": "flush",
      "vconcat": [
        {"width": 10, "height": 81, "data": {"values": [{"s": 1}]}, "mark": {"type": "point", "opacity": 0}, "encoding": {}},
        {
          "width": 201.6, "height": 115,
          "title": {"text": "雌性", "dx": 16, "offset": 21},
          "resolve": {"axis": {"x": "independent", "y": "independent"}},
          "layer": [
            {
              "encoding": {
                "x": {"field": "cm", "type": "quantitative", "scale": {"domain": [8.4, 60.9], "nice": false, "zero": false}, "axis": {"title": null, "labels": false, "values": [10,12,14,16,18,20,22,24,26,28,30,32,34,36,38,40,42,44,46,48,50,52,54,56,58,60]}},
                "y": {"field": "pct", "type": "quantitative", "scale": {"domain": [0, 14.8], "nice": false, "zero": false}, "axis": {"title": "比重/%", "values": [0,4,8,12], "titlePadding": 9.5}}
              },
              "layer": [
                {"data": {"name": "bars"}, "transform": [{"filter": "datum.p == 'R1'"}], "mark": {"type": "bar", "fill": "white", "stroke": "black", "strokeWidth": 1.3, "clip": true}, "encoding": {"x2": {"field": "cm2"}, "y2": {"datum": 0}}},
                {"data": {"name": "curves"}, "transform": [{"filter": "datum.p == 'R1'"}], "mark": {"type": "line", "interpolate": "monotone", "stroke": "black", "strokeWidth": 1.2, "clip": true}, "encoding": {"detail": {"field": "c", "type": "nominal"}}}
              ]
            },
            {"data": {"values": [{"t": "2004年12月"}]}, "mark": {"type": "text", "align": "left", "baseline": "middle", "color": "black", "font": "Liberation Serif", "fontSize": 18},
             "encoding": {"x": {"datum": 13.8, "type": "quantitative", "axis": null}, "y": {"datum": 10.4, "type": "quantitative", "axis": null}, "text": {"field": "t", "type": "nominal"}}},
            {"data": {"values": [{"t": "n=150"}]}, "mark": {"type": "text", "align": "left", "baseline": "middle", "color": "black", "font": "Liberation Serif", "fontSize": 18},
             "encoding": {"x": {"datum": 13.8, "type": "quantitative", "axis": null}, "y": {"datum": 7.5, "type": "quantitative", "axis": null}, "text": {"field": "t", "type": "nominal"}}}
          ]
        },
        {
          "width": 201.6, "height": 93,
          "resolve": {"axis": {"x": "independent", "y": "independent"}},
          "layer": [
            {
              "encoding": {
                "x": {"field": "cm", "type": "quantitative", "scale": {"domain": [8.4, 60.9], "nice": false, "zero": false}, "axis": {"title": null, "labels": false, "values": [10,12,14,16,18,20,22,24,26,28,30,32,34,36,38,40,42,44,46,48,50,52,54,56,58,60]}},
                "y": {"field": "pct", "type": "quantitative", "scale": {"domain": [0, 24.8], "nice": false, "zero": false}, "axis": {"title": "比重/%", "values": [0,5,10,15,20,25], "titlePadding": 9.5, "labelFontSize": 17}}
              },
              "layer": [
                {"data": {"name": "bars"}, "transform": [{"filter": "datum.p == 'R2'"}], "mark": {"type": "bar", "fill": "white", "stroke": "black", "strokeWidth": 1.3, "clip": true}, "encoding": {"x2": {"field": "cm2"}, "y2": {"datum": 0}}},
                {"data": {"name": "curves"}, "transform": [{"filter": "datum.p == 'R2'"}], "mark": {"type": "line", "interpolate": "monotone", "stroke": "black", "strokeWidth": 1.2, "clip": true}, "encoding": {"detail": {"field": "c", "type": "nominal"}}}
              ]
            },
            {"data": {"values": [{"t": "2005年1月"}]}, "mark": {"type": "text", "align": "left", "baseline": "middle", "color": "black", "font": "Liberation Serif", "fontSize": 18},
             "encoding": {"x": {"datum": 13.4, "type": "quantitative", "axis": null}, "y": {"datum": 16.3, "type": "quantitative", "axis": null}, "text": {"field": "t", "type": "nominal"}}},
            {"data": {"values": [{"t": "n=330"}]}, "mark": {"type": "text", "align": "left", "baseline": "middle", "color": "black", "font": "Liberation Serif", "fontSize": 18},
             "encoding": {"x": {"datum": 13.4, "type": "quantitative", "axis": null}, "y": {"datum": 10.1, "type": "quantitative", "axis": null}, "text": {"field": "t", "type": "nominal"}}}
          ]
        },
        {
          "width": 201.6, "height": 98,
          "resolve": {"axis": {"x": "independent", "y": "independent"}},
          "layer": [
            {
              "encoding": {
                "x": {"field": "cm", "type": "quantitative", "scale": {"domain": [8.4, 60.9], "nice": false, "zero": false}, "axis": {"title": null, "labels": false, "values": [10,12,14,16,18,20,22,24,26,28,30,32,34,36,38,40,42,44,46,48,50,52,54,56,58,60]}},
                "y": {"field": "pct", "type": "quantitative", "scale": {"domain": [0, 19.7], "nice": false, "zero": false}, "axis": {"title": "比重/%", "values": [0,4,8,12,16], "titlePadding": 9.5}}
              },
              "layer": [
                {"data": {"name": "bars"}, "transform": [{"filter": "datum.p == 'R3'"}], "mark": {"type": "bar", "fill": "white", "stroke": "black", "strokeWidth": 1.3, "clip": true}, "encoding": {"x2": {"field": "cm2"}, "y2": {"datum": 0}}},
                {"data": {"name": "curves"}, "transform": [{"filter": "datum.p == 'R3'"}], "mark": {"type": "line", "interpolate": "monotone", "stroke": "black", "strokeWidth": 1.2, "clip": true}, "encoding": {"detail": {"field": "c", "type": "nominal"}}}
              ]
            },
            {"data": {"values": [{"t": "2005年3月"}]}, "mark": {"type": "text", "align": "left", "baseline": "middle", "color": "black", "font": "Liberation Serif", "fontSize": 18},
             "encoding": {"x": {"datum": 10.4, "type": "quantitative", "axis": null}, "y": {"datum": 14.9, "type": "quantitative", "axis": null}, "text": {"field": "t", "type": "nominal"}}},
            {"data": {"values": [{"t": "n=25"}]}, "mark": {"type": "text", "align": "left", "baseline": "middle", "color": "black", "font": "Liberation Serif", "fontSize": 18},
             "encoding": {"x": {"datum": 10.4, "type": "quantitative", "axis": null}, "y": {"datum": 10.2, "type": "quantitative", "axis": null}, "text": {"field": "t", "type": "nominal"}}}
          ]
        },
        {
          "width": 201.6, "height": 95,
          "resolve": {"axis": {"x": "independent", "y": "independent"}},
          "layer": [
            {
              "encoding": {
                "x": {"field": "cm", "type": "quantitative", "scale": {"domain": [8.4, 60.9], "nice": false, "zero": false}, "axis": {"title": "胴长/cm", "values": [10,12,14,16,18,20,22,24,26,28,30,32,34,36,38,40,42,44,46,48,50,52,54,56,58,60], "labelExpr": "indexof([10,16,22,28,34,40,46,52,58], datum.value) >= 0 ? datum.label : ''"}},
                "y": {"field": "pct", "type": "quantitative", "scale": {"domain": [0, 14.4], "nice": false, "zero": false}, "axis": {"title": "比重/%", "values": [0,4,8,12], "titlePadding": 9.5}}
              },
              "layer": [
                {"data": {"name": "bars"}, "transform": [{"filter": "datum.p == 'R4'"}], "mark": {"type": "bar", "fill": "white", "stroke": "black", "strokeWidth": 1.3, "clip": true}, "encoding": {"x2": {"field": "cm2"}, "y2": {"datum": 0}}},
                {"data": {"name": "curves"}, "transform": [{"filter": "datum.p == 'R4'"}], "mark": {"type": "line", "interpolate": "monotone", "stroke": "black", "strokeWidth": 1.2, "clip": true}, "encoding": {"detail": {"field": "c", "type": "nominal"}}}
              ]
            },
            {"data": {"values": [{"t": "2005年4月"}]}, "mark": {"type": "text", "align": "left", "baseline": "middle", "color": "black", "font": "Liberation Serif", "fontSize": 18},
             "encoding": {"x": {"datum": 12.4, "type": "quantitative", "axis": null}, "y": {"datum": 11.0, "type": "quantitative", "axis": null}, "text": {"field": "t", "type": "nominal"}}},
            {"data": {"values": [{"t": "n=316"}]}, "mark": {"type": "text", "align": "left", "baseline": "middle", "color": "black", "font": "Liberation Serif", "fontSize": 18},
             "encoding": {"x": {"datum": 12.4, "type": "quantitative", "axis": null}, "y": {"datum": 7.6, "type": "quantitative", "axis": null}, "text": {"field": "t", "type": "nominal"}}}
          ]
        }
      ]
    }
  ]
}
